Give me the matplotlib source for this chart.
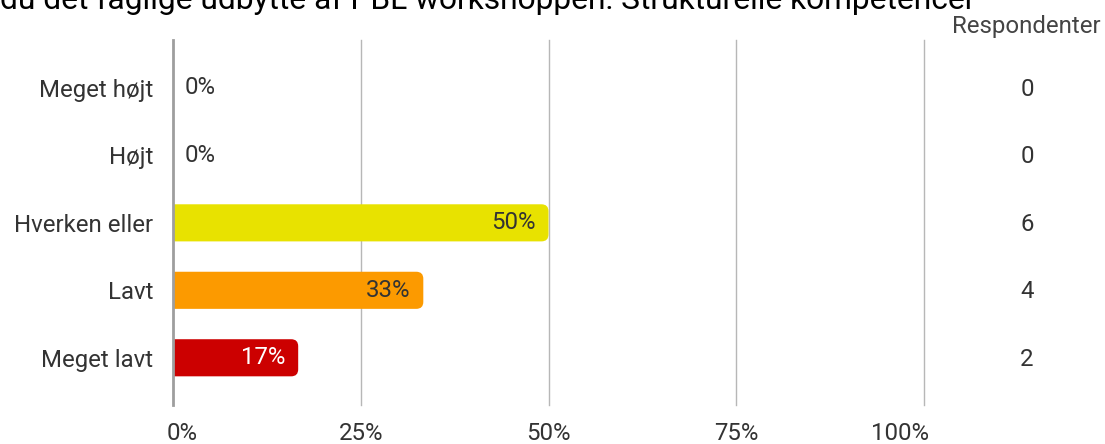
import matplotlib.pyplot as plt
import matplotlib.transforms as mtransforms
from matplotlib.patches import PathPatch
from matplotlib.path import Path

categories = ['Meget højt', 'Højt', 'Hverken eller', 'Lavt', 'Meget lavt']
percents = [0, 0, 50, 33.33, 16.67]
pct_labels = ['0%', '0%', '50%', '33%', '17%']
counts = [0, 0, 6, 4, 2]
colors = ['#e8e200', '#e8e200', '#e8e200', '#fc9a00', '#cc0000']
label_colors = ['#333333', '#333333', '#333333', '#333333', '#ffffff']
xticks = [0, 25, 50, 75, 100]
xtick_labels = ['0%', '25%', '50%', '75%', '100%']
title_head = 'Hvordan vurderer '
title_tail = 'du det faglige udbytte af PBL workshoppen: Strukturelle kompetencer'

plt.rcParams['font.family'] = ['Roboto', 'DejaVu Sans']
fs = 17.3

W, H = 1105, 444
fig = plt.figure(figsize=(W / 100, H / 100), dpi=100)
ax = fig.add_axes([173 / W, 1 - 405 / H, (924 - 173) / W, (405 - 40) / H])
ax.set_xlim(0, 100)
ax.set_ylim(4.7, -0.71)

for s in ax.spines.values():
    s.set_visible(False)
for x in xticks[1:]:
    ax.axvline(x, color='#b7b7b7', lw=1, zorder=0, clip_on=False)
ax.axvline(0, color='#9e9e9e', lw=2, zorder=3, clip_on=False)


def right_rounded(x0, x1, y0, y1, rx, ry):
    # bar with only the right-hand corners rounded
    verts = [(x0, y0), (x1 - rx, y0), (x1, y0), (x1, y0 + ry),
             (x1, y1 - ry), (x1, y1), (x1 - rx, y1), (x0, y1), (x0, y0)]
    codes = [Path.MOVETO, Path.LINETO, Path.CURVE3, Path.CURVE3,
             Path.LINETO, Path.CURVE3, Path.CURVE3, Path.LINETO, Path.CLOSEPOLY]
    return Path(verts, codes)


bh = 0.55
rx = 7 / 7.51
ry = 7 / 67.5
for i, v in enumerate(percents):
    if v <= 0:
        continue
    ax.add_patch(PathPatch(right_rounded(0, v, i - bh / 2, i + bh / 2, rx, ry),
                           fc=colors[i], ec='none', lw=0, zorder=2))
    ax.text(v - 1.7, i, pct_labels[i], ha='right', va='center',
            fontsize=fs, color=label_colors[i], zorder=4)

for i, v in enumerate(percents):
    if v <= 0:
        ax.text(1.6, i, pct_labels[i], ha='left', va='center',
                fontsize=fs, color='#333333', zorder=4)

ax.set_yticks(range(len(categories)))
ax.set_yticklabels(categories, fontsize=fs, color='#333333')
ax.set_xticks(xticks)
ax.set_xticklabels(xtick_labels, fontsize=fs, color='#333333')
ax.tick_params(length=0)
ax.tick_params(axis='y', pad=14)
ax.tick_params(axis='x', pad=12)

xl = ax.get_xticklabels()
xl[0].set_transform(xl[0].get_transform() +
                    mtransforms.ScaledTranslation(9 / 100, 0, fig.dpi_scale_trans))
xl[-1].set_transform(xl[-1].get_transform() +
                     mtransforms.ScaledTranslation(-24 / 100, 0, fig.dpi_scale_trans))

trans = mtransforms.blended_transform_factory(fig.transFigure, ax.transData)
for i, c in enumerate(counts):
    ax.text(1027 / W, i + 0.02, str(c), transform=trans, ha='center', va='center',
            fontsize=fs, color='#333333')
fig.text(1026 / W, 1 - 26 / H, 'Respondenter', ha='center', va='center',
         fontsize=fs, color='#444444')

# size the title so the visible part spans x=0..975 px
renderer = fig.canvas.get_renderer()
probe = fig.text(0, 0, title_tail, fontsize=20)
w = probe.get_window_extent(renderer).width
probe.remove()
tfs = 20 * 975 / w
fig.text(975 / W, 1 - 9 / H, title_head + title_tail, ha='right', va='baseline',
         fontsize=tfs, color='#000000')

fig.savefig('out.png', dpi=100)
